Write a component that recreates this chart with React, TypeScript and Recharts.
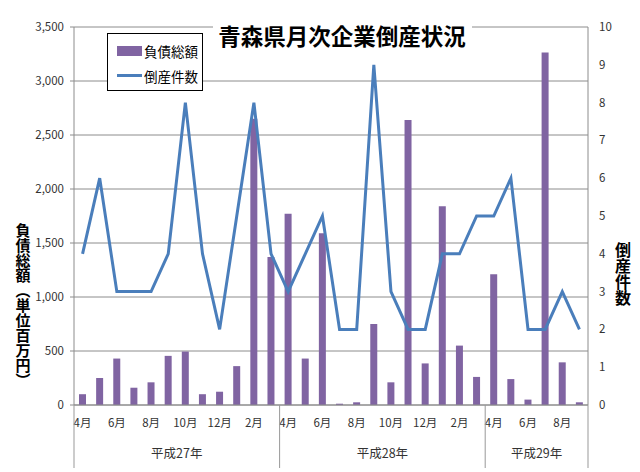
import React from "react";
import { ComposedChart, Bar, Line, XAxis, YAxis, CartesianGrid, Legend, Customized } from "recharts";

// 平成27年4月 〜 平成29年9月
const months = [4, 5, 6, 7, 8, 9, 10, 11, 12, 1, 2, 3, 4, 5, 6, 7, 8, 9, 10, 11, 12, 1, 2, 3, 4, 5, 6, 7, 8, 9];
const eras = ["平成27年", "平成28年", "平成29年"];
const eraSizes = [12, 12, 6];
const debt = [100, 250, 430, 160, 210, 455, 495, 100, 123, 360, 2650, 1370, 1770, 430, 1590, 12, 25, 750, 210, 2640, 385, 1840, 550, 260, 1210, 240, 50, 3265, 395, 25];
const cases = [4, 6, 3, 3, 3, 4, 8, 4, 2, 5, 8, 4, 3, 4, 5, 2, 2, 9, 3, 2, 2, 4, 4, 5, 5, 6, 2, 2, 3, 2];
const leftTicks = [0, 500, 1000, 1500, 2000, 2500, 3000, 3500];
const rightTicks = [0, 1, 2, 3, 4, 5, 6, 7, 8, 9, 10];

const eraOf = (i: number) => {
  let acc = 0;
  for (let e = 0; e < eras.length; e++) {
    acc += eraSizes[e];
    if (i < acc) return eras[e];
  }
  return eras[eras.length - 1];
};

const data = months.map((m, i) => ({
  label: `${m}月`,
  era: eraOf(i),
  debt: debt[i],
  cases: cases[i],
}));

const FONT = "'Noto Sans CJK JP', 'Noto Sans', sans-serif";
const W = 640;
const H = 472;
const LEFT_W = 74;
const RIGHT_W = 52;
const BAND = (W - LEFT_W - RIGHT_W) / months.length;

const MonthTick = (props: any) => {
  const { x, y, payload } = props;
  const i = payload.index;
  const items: React.ReactNode[] = [];
  if (i % 2 === 0) {
    items.push(
      <text key="m" x={x} y={y + 14} textAnchor="middle" fontSize={11.5} fill="#333" fontFamily={FONT}>
        {payload.value}
      </text>
    );
  }
  const isStart = i === 0 || data[i - 1].era !== data[i].era;
  if (isStart) {
    const e = eras.indexOf(data[i].era);
    const x0 = x - BAND / 2;
    items.push(<line key="s" x1={x0} x2={x0} y1={y - 8} y2={y + 55} stroke="#999" />);
    items.push(
      <text key="e" x={x0 + (eraSizes[e] * BAND) / 2} y={y + 45} textAnchor="middle" fontSize={12.5} fill="#333" fontFamily={FONT}>
        {data[i].era}
      </text>
    );
  }
  if (i === data.length - 1) {
    const x1 = x + BAND / 2;
    items.push(<line key="end" x1={x1} x2={x1} y1={y - 8} y2={y + 55} stroke="#999" />);
  }
  return <g>{items}</g>;
};

const LegendBox = (props: any) => {
  const payload = [...(props.payload || [])].sort(
    (a: any, b: any) => (a.type === "line" ? 1 : 0) - (b.type === "line" ? 1 : 0)
  );
  return (
    <div
      style={{
        width: 96,
        height: 58,
        border: "1px solid #000",
        background: "#fff",
        boxSizing: "border-box",
        fontFamily: FONT,
        fontSize: 13.5,
        color: "#000",
        padding: "4px 0 0 9px",
      }}
    >
      {payload.map((p: any) => (
        <div key={p.value} style={{ display: "flex", alignItems: "center", height: 25 }}>
          {p.type === "line" ? (
            <span style={{ display: "inline-block", width: 25, height: 3, background: p.color, marginRight: 2 }} />
          ) : (
            <span style={{ display: "inline-block", width: 25, height: 10, background: p.color, marginRight: 2 }} />
          )}
          <span>{p.value}</span>
        </div>
      ))}
    </div>
  );
};

const Titles = () => (
  <g fontFamily={FONT}>
    <rect x={213} y={18} width={259} height={34} fill="#fff" />
    <text x={342} y={45} textAnchor="middle" fontSize={22.5} fontWeight="bold" fill="#000">
      青森県月次企業倒産状況
    </text>
    <text x={23} y={223} fontSize={15} fontWeight="bold" fill="#000" style={{ writingMode: "vertical-rl" }}>
      負債総額（単位百万円）
    </text>
    <text x={623} y={242} fontSize={16} fontWeight="bold" fill="#000" style={{ writingMode: "vertical-rl" }}>
      倒産件数
    </text>
  </g>
);

export default function App() {
  return (
    <div style={{ position: "absolute", left: 0, top: 0, width: W, height: H, background: "#fff" }}>
      <ComposedChart width={W} height={H} data={data} margin={{ top: 27, right: 0, bottom: 0, left: 0 }} barSize={7}>
        <CartesianGrid yAxisId="left" vertical={false} stroke="#8c8c8c" />
        <XAxis
          dataKey="label"
          interval={0}
          height={67}
          tickLine={false}
          axisLine={{ stroke: "#8c8c8c" }}
          tick={<MonthTick />}
        />
        <YAxis
          yAxisId="left"
          width={LEFT_W}
          domain={[0, 3500]}
          ticks={leftTicks}
          tickFormatter={(v: number) => v.toLocaleString("en-US")}
          tick={{ fontSize: 11.5, fill: "#333", fontFamily: FONT }}
          tickSize={4}
          tickMargin={6}
          tickLine={{ stroke: "#8c8c8c" }}
          axisLine={{ stroke: "#8c8c8c" }}
        />
        <YAxis
          yAxisId="right"
          orientation="right"
          width={RIGHT_W}
          domain={[0, 10]}
          ticks={rightTicks}
          tick={{ fontSize: 11.5, fill: "#333", fontFamily: FONT }}
          tickLine={false}
          tickMargin={5}
          axisLine={{ stroke: "#8c8c8c" }}
        />
        <Bar yAxisId="left" dataKey="debt" name="負債総額" fill="#8064a2" isAnimationActive={false} />
        <Line
          yAxisId="right"
          dataKey="cases"
          name="倒産件数"
          type="linear"
          stroke="#4a7ebb"
          strokeWidth={3}
          dot={false}
          activeDot={false}
          isAnimationActive={false}
        />
        <Legend
          layout="vertical"
          align="center"
          verticalAlign="middle"
          content={<LegendBox />}
          wrapperStyle={{ position: "absolute", left: 107, top: 33, width: 96, height: 58 }}
        />
        <Customized component={Titles} />
      </ComposedChart>
    </div>
  );
}
